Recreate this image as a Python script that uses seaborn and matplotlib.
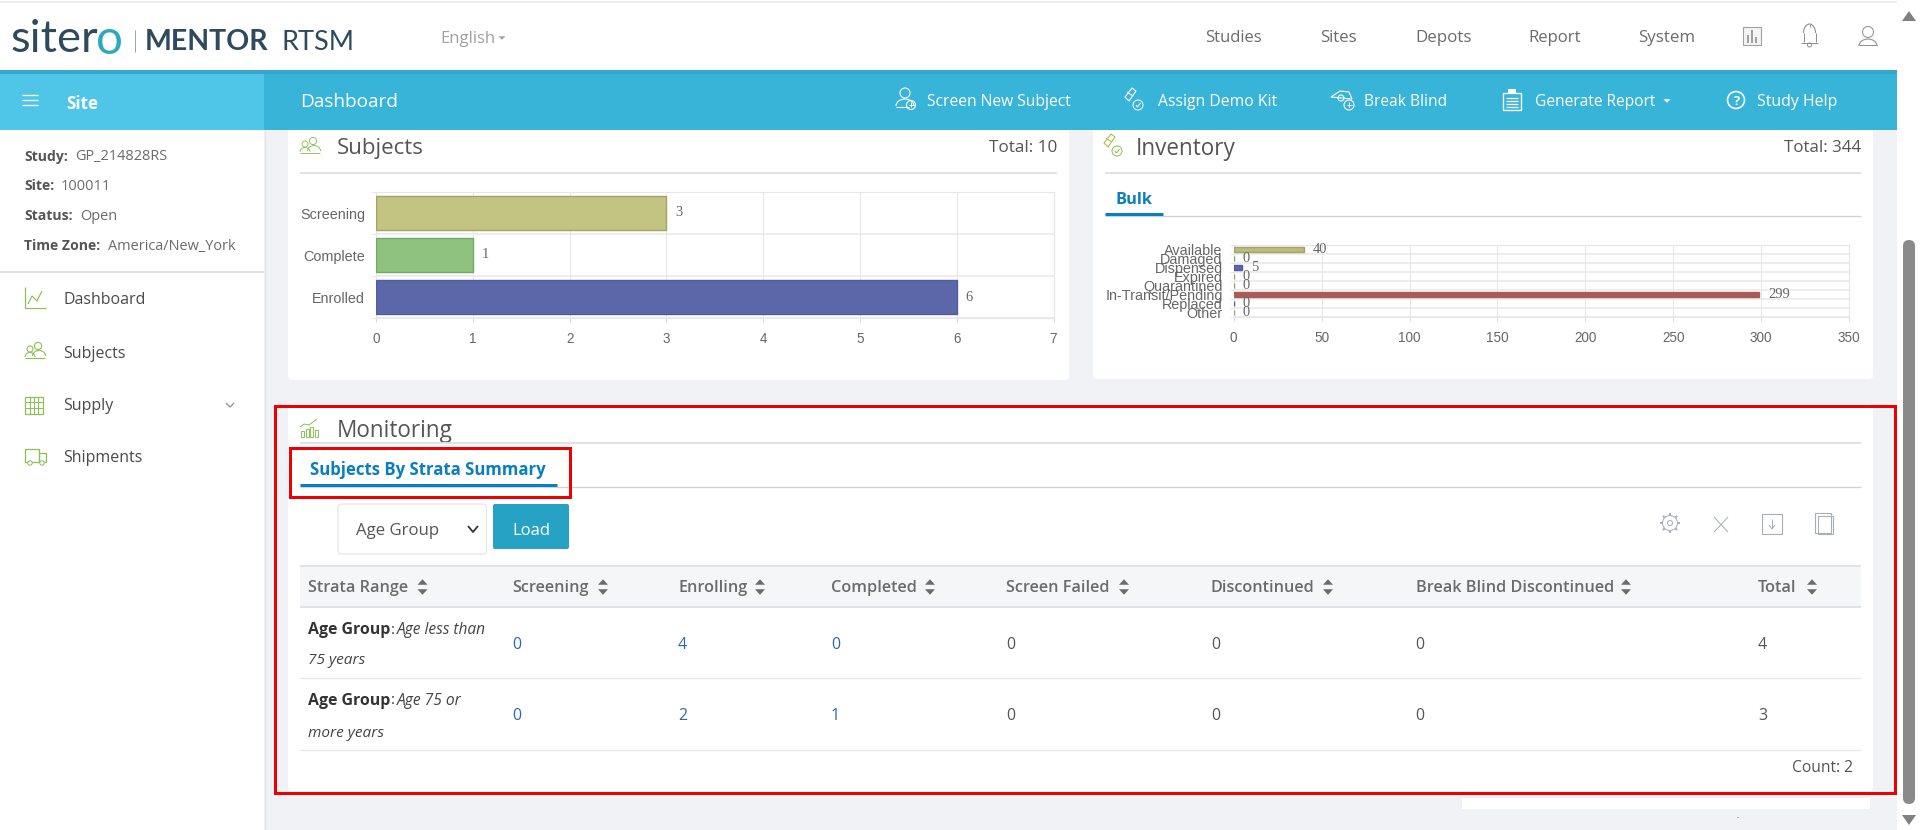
import math
import matplotlib
matplotlib.use("Agg")
import matplotlib.pyplot as plt
from matplotlib.patches import Rectangle, FancyBboxPatch, Circle, Arc, Polygon
import pandas as pd
import seaborn as sns

# ---- data ----
subject_status = ["Screening", "Complete", "Enrolled"]
subject_counts = [3, 1, 6]
subject_colors = ["#c3c382", "#8fc27f", "#5c67a9"]
subject_edges = ["#a3a367", "#74a865", "#525da0"]
inventory_status = ["Available", "Damaged", "Dispensed", "Expired", "Quarantined",
                    "In-Transit/Pending", "Replaced", "Other"]
inventory_counts = [40, 0, 5, 0, 0, 299, 0, 0]
inventory_colors = ["#bcbc7c", "#8fc27f", "#5c67a9", "#bcbc7c", "#8fc27f", "#a85c55", "#5c67a9", "#bcbc7c"]
inventory_edges = ["#a3a367", "#74a865", "#525da0", "#a3a367", "#74a865", "#a85c55", "#525da0", "#a3a367"]
table_columns = ["Strata Range", "Screening", "Enrolling", "Completed", "Screen Failed",
                 "Discontinued", "Break Blind Discontinued", "Total"]
strata_groups = ["Age Group", "Age Group"]
strata_line1 = ["Age less than", "Age 75 or"]
strata_line2 = ["75 years", "more years"]
row_screening = [0, 0]
row_enrolling = [4, 2]
row_completed = [0, 1]
row_failed = [0, 0]
row_discontinued = [0, 0]
row_blind = [0, 0]
row_total = [4, 3]
top_nav = ["Studies", "Sites", "Depots", "Report", "System"]
action_nav = ["Screen New Subject", "Assign Demo Kit", "Break Blind", "Generate Report", "Study Help"]
side_keys = ["Study:", "Site:", "Status:", "Time Zone:"]
side_values = ["GP_214828RS", "100011", "Open", "America/New_York"]
side_menu = ["Dashboard", "Subjects", "Supply", "Shipments"]

sns.set_theme(style="white")
OS = ["Open Sans", "DejaVu Sans"]
LS = ["Liberation Sans", "DejaVu Sans"]
LF = ["Liberation Serif", "DejaVu Serif"]
LA = ["Lato", "DejaVu Sans"]
plt.rcParams["font.family"] = OS

W, H = 1920, 830
fig = plt.figure(figsize=(W / 100, H / 100), dpi=100, facecolor="#f0f2f6")
ui = fig.add_axes([0, 0, 1, 1], zorder=0)
ui.set_xlim(0, W); ui.set_ylim(H, 0); ui.axis("off")
rend = fig.canvas.get_renderer()

GREEN = "#8cc152"
BLUE = "#0a7fc0"
GREY = "#6b6b6b"
RULE = "#dfe2e6"
LINK = "#2a6aa8"


def T(x, y, s, px=15, color="#555555", ha="left", weight="normal", style="normal", family=OS, fitw=None):
    t = ui.text(x, y, s, fontsize=px * 0.72, color=color, ha=ha, va="center_baseline",
                fontweight=weight, fontstyle=style, family=family)
    if fitw:
        w = t.get_window_extent(rend).width
        t.set_fontsize(px * 0.72 * fitw / w)
    return t


def R(x0, y0, x1, y1, fc, ec="none", lw=0, z=1):
    ui.add_patch(Rectangle((x0, y0), x1 - x0, y1 - y0, fc=fc, ec=ec, lw=lw * 0.72, zorder=z))


def RR(x0, y0, x1, y1, fc, ec="none", lw=0, r=4, z=1):
    ui.add_patch(FancyBboxPatch((x0, y0), x1 - x0, y1 - y0, boxstyle=f"round,pad=0,rounding_size={r}",
                                fc=fc, ec=ec, lw=lw * 0.72, zorder=z))


def L(xs, ys, color, lw=1.0, z=3):
    ui.plot(xs, ys, color=color, lw=lw * 0.72, zorder=z, solid_capstyle="butt")


def C(x, y, r, ec, lw=1.0, fc="none", z=3):
    ui.add_patch(Circle((x, y), r, fc=fc, ec=ec, lw=lw * 0.72, zorder=z))


def TRI(x, y, s, color, up=False, z=3, h=None):
    h = h or s
    d = -h if up else h
    ui.add_patch(Polygon([(x - s, y - d / 2), (x + s, y - d / 2), (x, y + d / 2)], fc=color, ec="none", zorder=z))


def people(x, y, color=GREEN, lw=1.0):
    C(x - 5, y - 3, 3, color, lw); C(x + 3, y - 6, 3.6, color, lw)
    ui.add_patch(Arc((x - 5, y + 5), 10, 9, theta1=180, theta2=360, ec=color, lw=lw * .72, zorder=3))
    ui.add_patch(Arc((x + 4, y + 4), 13, 11, theta1=180, theta2=360, ec=color, lw=lw * .72, zorder=3))
    L([x - 10, x + 10], [y + 6, y + 6], color, lw)


def pill(x, y, color=GREEN, lw=1.0):
    ui.add_patch(Polygon([(x - 10, y - 3), (x - 3, y - 12), (x + 1, y - 9), (x - 6, y + 1)],
                         fc="none", ec="#b5b84f" if color == GREEN else color, lw=lw * .8, zorder=3, joinstyle="round"))
    L([x - 8, x - 2], [y - 8, y - 4], "#b5b84f" if color == GREEN else color, lw)
    C(x + 3, y + 5, 5, color, lw)
    L([x + 1, x + 2.5, x + 5.5], [y + 5, y + 7, y + 3], color, lw)


def person_plus(x, y, color="white"):
    C(x, y - 6, 5, color, 1.1)
    ui.add_patch(Arc((x, y + 7), 18, 14, theta1=180, theta2=360, ec=color, lw=.8, zorder=3))
    L([x - 9, x + 4], [y + 8, y + 8], color, 1.1)
    C(x + 6, y + 6, 4.5, color, 1.1)
    L([x + 3.5, x + 8.5], [y + 6, y + 6], color, 1); L([x + 6, x + 6], [y + 3.5, y + 8.5], color, 1)


# ---- page panels ----
RR(288, 120, 1069, 380, "white")
RR(1093, 120, 1873, 379, "white")
RR(288, 404, 1873, 791, "white")
R(1462, 798, 1870, 809, "white")
R(1737, 816.5, 1739, 818, "#b0b0b0")

# scrollbar
R(1897, 0, W, H, "white", z=2)
RR(1903, 240, 1915, 804, "#8a8a8a", r=6, z=3)
TRI(1909, 16, 7, "#808080", up=True, h=10)
TRI(1909, 820, 7, "#808080", h=10)

# header
R(0, 0, 1897, 70, "white", z=2)
L([0, 1897], [2.5, 2.5], "#e6e6e6", 1.5)
R(0, 70, 1897, 130, "#38b4d8", z=2)
R(0, 70, 1897, 74, "#34a6c8", z=3)
R(0, 74, 264, 130, "#4fc6e8", z=3)

T(10, 36, "siter", px=44, color="#2f4a5c", family=LA, fitw=88)
T(96, 36, "o", px=44, color="#2aa9c0", family=LA, fitw=27)
L([135, 135], [30, 52], "#9aa5ad", 1)
T(145, 40, "MENTOR", px=28, color="#2f4a5c", weight="bold", family=LA, fitw=124)
T(282, 40, "RTSM", px=28, color="#2f4a5c", family=LA, fitw=73)
T(440, 37, "English", px=16, color="#a0a0a0", fitw=55)
TRI(502, 38, 3.5, "#a0a0a0")
for x, s, w in zip([1205, 1320, 1415, 1528, 1638.5], top_nav, [57, 37, 56, 53, 57]):
    T(x, 36.5, s, px=16, color="#6b6b6b", fitw=w)
# top-right icons
ui.add_patch(Rectangle((1743, 27), 18, 18, fc="#f4f4f4", ec="#a0a0a0", lw=.8, zorder=3))
for dx, hgt in zip([1748, 1752, 1756], [8, 13, 6]):
    L([dx, dx], [43, 43 - hgt], "#a0a0a0", 2)
ui.add_patch(Arc((1809.5, 33), 12, 18, theta1=180, theta2=360, ec="#909090", lw=.8, zorder=3))
L([1803.5, 1803.5], [33, 42], "#909090", 1); L([1815.5, 1815.5], [33, 42], "#909090", 1)
L([1801, 1818], [43, 43], "#909090", 1); C(1809.5, 45, 2, "#909090", 1); L([1809.5, 1809.5], [24, 27], "#909090", 1)
C(1868, 32, 5.5, "#909090", 1)
ui.add_patch(Arc((1868, 46), 18, 14, theta1=180, theta2=360, ec="#909090", lw=.8, zorder=3))
L([1859, 1877], [45, 45], "#909090", 1)

# action bar
for y in [95, 100, 105]:
    L([22, 38], [y, y], "white", 1.3)
T(66, 102, "Site", px=15, color="white", weight="bold", fitw=32)
T(300, 100, "Dashboard", px=19, color="white", fitw=98)
for x, s, w in zip([927, 1158, 1364, 1535, 1757], action_nav, [144, 119, 83, 121, 80]):
    T(x, 100, s, px=16, color="white", fitw=w)
TRI(1667, 101, 3.5, "white")
person_plus(905, 99)
pill(1135, 100, color="white")
# break blind eye
ui.add_patch(Polygon([(1331, 97), (1340, 91), (1349, 92), (1352, 99)], fc="none", ec="white", lw=.8, zorder=3))
C(1341, 98, 3, "white", 1.1); C(1349, 105, 5, "white", 1.1, fc="#38b4d8")
L([1346.5, 1351.5], [105, 105], "white", 1); L([1349, 1349], [102.5, 107.5], "white", 1)
# report clipboard
ui.add_patch(Rectangle((1503, 93), 18, 17, fc="none", ec="white", lw=1, zorder=3))
R(1508, 89, 1516, 94, "white", z=3)
for y in [98, 101, 104, 107]:
    L([1506, 1518], [y, y], "white", 1.3)
# help
C(1736, 100, 8.5, "white", 1.6)
T(1736, 100, "?", px=13, color="white", ha="center", weight="bold")

# ---- sidebar ----
R(0, 130, 264, H, "white", z=2)
L([264.5, 264.5], [130, H], "#e3e6ea", 1.2)
L([0, 264], [272, 272], "#e0e3e6", 2)
for y, k, v, x in zip([155, 185, 214, 244], side_keys, side_values, [75, 61, 80, 108]):
    T(24, y, k, px=14, color="#555555", weight="bold")
    T(x, y, v, px=14.5, color="#6b6b6b")
for y, s in zip([298, 352, 404, 456], side_menu):
    T(63.5, y, s, px=16, color="#4a4a4a", weight=500)
# sidebar icons
L([24.5, 24.5, 46], [287, 308, 308], GREEN, 1.2)
L([28, 32, 37, 42], [304, 296, 301, 291], GREEN, 1.2)
people(35, 352, lw=1.1)
ui.add_patch(Rectangle((25, 397), 18, 17, fc="none", ec=GREEN, lw=.9, zorder=3))
for x in [30, 34, 38]:
    L([x, x], [397, 414], GREEN, 1)
for y in [402, 408]:
    L([25, 43], [y, y], GREEN, 1)
ui.add_patch(Rectangle((25, 449), 14, 13, fc="none", ec=GREEN, lw=.9, zorder=3))
ui.add_patch(Rectangle((39, 453), 7, 9, fc="none", ec=GREEN, lw=.9, zorder=3))
C(30, 463, 2.2, GREEN, 1, fc="white", z=4); C(42, 463, 2.2, GREEN, 1, fc="white", z=4)
L([226, 230, 234], [403, 407, 403], "#9a9a9a", 1.4)

# ---- card heads ----
people(310, 147, lw=.9)
T(337, 146, "Subjects", px=22, color="#555555", fitw=87, weight=500)
T(1057, 146, "Total: 10", px=16, color="#555555", ha="right", fitw=68)
L([300, 1057], [173, 173], RULE, 2)
pill(1114, 146)
T(1136, 146, "Inventory", px=22, color="#555555", fitw=100, weight=500)
T(1861, 146, "Total: 344", px=16, color="#555555", ha="right", fitw=77)
L([1105, 1861], [173, 173], RULE, 2)
T(1115.5, 198, "Bulk", px=16, color=BLUE, weight="bold", fitw=37)
L([1105, 1861], [216.5, 216.5], "#cfd2d6", 1.3)
L([1105, 1163], [214.5, 214.5], BLUE, 3, z=4)

# ---- monitoring ----
for x, top in zip([301, 305.5, 310, 314.5], [431, 429, 427, 430]):
    ui.add_patch(Rectangle((x, top), 3, 436 - top + 1, fc="none", ec=GREEN, lw=.7, zorder=3))
L([300, 304, 309, 317], [427, 424, 425, 419], GREEN, 1)
T(337, 428, "Monitoring", px=22, color="#555555", fitw=116, weight=500)
L([300, 1861], [443, 443], RULE, 2)
T(310, 468, "Subjects By Strata Summary", px=15.5, color=BLUE, weight="bold", fitw=237)
L([300, 1861], [486.5, 486.5], "#cfd2d6", 1.3)
L([300, 557], [484.5, 484.5], BLUE, 3, z=4)
RR(338, 504, 486.5, 554, "white", ec="#e6e6e6", lw=1.2, r=4)
T(356, 529, "Age Group", px=16, color="#555555", fitw=83)
L([468, 473, 478], [526, 532, 526], "#333333", 1.8)
RR(493, 504, 569, 549, "#25a2c4", r=2)
T(531, 529, "Load", px=16, color="white", ha="center", fitw=38)
# toolbar icons
ICON = "#a8afb5"
C(1670, 523, 7.5, ICON, 1.0); C(1670, 523, 2.5, ICON, 1.0)
for k in range(8):
    ang = k * math.pi / 4
    L([1670 + 7.5 * math.cos(ang), 1670 + 10 * math.cos(ang)],
      [523 + 7.5 * math.sin(ang), 523 + 10 * math.sin(ang)], ICON, 2)
L([1714, 1728], [517, 532], ICON, 1); L([1728, 1714], [517, 532], ICON, 1)
ui.add_patch(Rectangle((1762, 514), 20, 20, fc="none", ec=ICON, lw=.8, zorder=3))
L([1772, 1772], [519, 528], ICON, 1); L([1769, 1772, 1775], [525, 529, 525], ICON, 1)
ui.add_patch(Rectangle((1815, 513), 16, 20, fc="none", ec=ICON, lw=.8, zorder=3))
ui.add_patch(Rectangle((1818, 516), 15, 18, fc="none", ec=ICON, lw=.8, zorder=3))

# table
col_x = [308, 512, 678, 831, 1006, 1211, 1415.6, 1758]
arrow_x = [422.5, 603, 760, 930, 1124, 1328, 1626, 1812]
R(300, 566, 1861, 607, "#f5f6f8")
L([300, 1861], [566, 566], RULE, 2)
L([300, 1861], [607, 607], RULE, 2)
for x, s, ax_ in zip(col_x, table_columns, arrow_x):
    T(x, 586, s, px=16.2, color=GREY, weight=600)
    TRI(ax_, 582, 5, GREY, up=True, h=5.5)
    TRI(ax_, 592, 5, GREY, h=5.5)
row_cols = [row_screening, row_enrolling, row_completed, row_failed, row_discontinued, row_blind, row_total]
row_link = [True, True, True, False, False, False, False]
for i, yc in enumerate([643, 714]):
    for x, col, link in zip(col_x[1:], row_cols, row_link):
        T(x, yc, str(col[i]), px=16, color=LINK if link else "#555555")
for y1, y2, g, s1, s2, w1, w2 in zip([628, 698.5], [658, 731], strata_groups, strata_line1, strata_line2,
                                     [89.5, 65], [57, 76]):
    T(308, y1, g, px=15, color="#333333", weight="bold", fitw=82)
    T(391, y1, ":", px=15, color="#333333")
    T(396.6, y1, s1, px=15, color="#444444", style="italic", fitw=w1)
    T(308, y2, s2, px=15, color="#444444", style="italic", fitw=w2)
L([300, 1861], [678, 678], "#e6e8eb", 1.3)
L([300, 1861], [750, 750], "#e6e8eb", 1.3)
T(1853, 766, "Count: 2", px=16, color="#555555", ha="right", fitw=61)

# red annotation boxes
ui.add_patch(Rectangle((275, 405.5), 1619.5, 387, fc="none", ec="#ee0000", lw=3 * .72, zorder=5))
ui.add_patch(Rectangle((289.5, 448), 280, 49, fc="none", ec="#ee0000", lw=3 * .72, zorder=5))


# ---- charts ----
def chart(box, cats, vals, cols, edges, xmax, step, width, lab_px):
    x0, y0, x1, y1 = box
    ax = fig.add_axes([x0 / W, 1 - y1 / H, (x1 - x0) / W, (y1 - y0) / H], zorder=2)
    ax.patch.set_alpha(0)
    df = pd.DataFrame({"status": cats, "count": vals})
    sns.barplot(data=df, y="status", x="count", hue="status", order=cats, hue_order=cats,
                palette=dict(zip(cats, cols)), saturation=1, dodge=False, width=width, legend=False, ax=ax,
                zorder=3)
    for bars, e in zip(ax.containers, edges):
        for b in bars:
            b.set_edgecolor(e); b.set_linewidth(1.0)
        ax.bar_label(bars, padding=6.2, fontsize=lab_px * .72, color="#666666", family=LF)
    ax.set_xlim(0, xmax)
    ax.set_ylim(len(cats) - .5, -.5)
    ax.set_xticks(range(0, xmax + 1, step))
    ax.set_yticks([i + .5 for i in range(-1, len(cats))], minor=True)
    ax.set_xlabel(""); ax.set_ylabel("")
    ax.grid(True, axis="x", color="#e6e6e6", lw=.75, zorder=0)
    ax.grid(True, axis="y", which="minor", color="#e8e8e8", lw=1.1, zorder=0)
    ax.tick_params(axis="x", length=3, width=.7, color="#d8d8d8", pad=7, labelsize=13.5 * .72,
                   labelcolor="#666666", bottom=True)
    ax.tick_params(axis="y", which="major", length=0, pad=8, labelsize=14.4 * .72, labelcolor="#666666")
    ax.tick_params(axis="y", which="minor", length=3, width=.7, color="#e6e6e6", left=True)
    for lab in ax.get_xticklabels() + ax.get_yticklabels():
        lab.set_family(LS)
    for s in ax.spines.values():
        s.set_color("#e6e6e6"); s.set_linewidth(.8)
    return ax


chart((376, 192, 1053.5, 318), subject_status, subject_counts, subject_colors, subject_edges, 7, 1, .81, 14.5)
chart((1233.7, 245, 1849, 317), inventory_status, inventory_counts, inventory_colors, inventory_edges, 350, 50, .62, 14.5)

fig.savefig("out.png", dpi=100, facecolor=fig.get_facecolor())
